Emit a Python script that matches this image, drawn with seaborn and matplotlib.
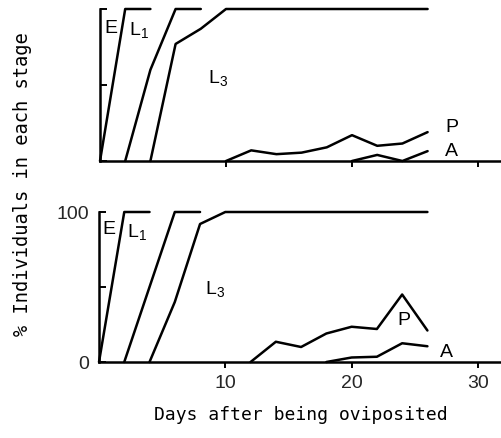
import matplotlib
matplotlib.use("Agg")
import matplotlib.pyplot as plt
import seaborn as sns

# --- data (days after oviposition, cumulative %) ---
top_e_days = [0, 2, 4]
top_e_vals = [0, 100, 100]
top_l1_days = [2, 4, 6, 8]
top_l1_vals = [0, 60, 100, 100]
top_l3_days = [4, 6, 8, 10, 26]
top_l3_vals = [0, 77, 87, 100, 100]
top_p_days = [10, 12, 14, 16, 18, 20, 22, 24, 26]
top_p_vals = [0, 7, 4.5, 5.5, 9, 17, 10, 11.5, 19]
top_a_days = [20, 22, 24, 26]
top_a_vals = [0, 4, 0, 6.5]

bot_e_days = [0, 2, 4]
bot_e_vals = [0, 100, 100]
bot_l1_days = [2, 4, 6, 8]
bot_l1_vals = [0, 50, 100, 100]
bot_l3_days = [4, 6, 8, 10, 26]
bot_l3_vals = [0, 40, 92, 100, 100]
bot_p_days = [12, 14, 16, 18, 20, 22, 24, 26]
bot_p_vals = [0, 13.5, 10, 19, 23.5, 22, 45, 21]
bot_a_days = [18, 20, 22, 24, 26]
bot_a_vals = [0, 3, 3.5, 12.5, 10.5]

x_ticks = [10, 20, 30]
y_ticks = [0, 50, 100]
y_ticklabels = ["0", "", "100"]

sns.set_theme(style="white")
plt.rcParams["font.family"] = ["Liberation Sans", "DejaVu Sans"]
plt.rcParams["mathtext.default"] = "regular"

fig = plt.figure(figsize=(5.01, 4.39), dpi=100)
ax_top = fig.add_axes([100 / 501, 1 - 162 / 439, 401 / 501, 152 / 439])
ax_bot = fig.add_axes([99 / 501, 1 - 363 / 439, 402 / 501, 150 / 439])

lw = 1.8
series_top = [(top_e_days, top_e_vals), (top_l1_days, top_l1_vals),
              (top_l3_days, top_l3_vals), (top_p_days, top_p_vals),
              (top_a_days, top_a_vals)]
series_bot = [(bot_e_days, bot_e_vals), (bot_l1_days, bot_l1_vals),
              (bot_l3_days, bot_l3_vals), (bot_p_days, bot_p_vals),
              (bot_a_days, bot_a_vals)]

for ax, series in [(ax_top, series_top), (ax_bot, series_bot)]:
    for d, v in series:
        sns.lineplot(x=d, y=v, ax=ax, color="black", lw=lw, estimator=None,
                     clip_on=False)
    ax.set_xlim(0, 401 / 12.6)
    ax.set_ylim(0, 100)
    ax.set_facecolor("white")
    for s in ["top", "right"]:
        ax.spines[s].set_visible(False)
    for s in ["left", "bottom"]:
        ax.spines[s].set_color("black")
        ax.spines[s].set_linewidth(lw)
    ax.set_xticks(x_ticks)
    ax.set_yticks(y_ticks)
    ax.tick_params(axis="x", bottom=True, direction="out", length=4, width=1.4,
                   color="black", labelsize=14, pad=5)
    ax.tick_params(axis="y", left=True, direction="in", length=5, width=1.4,
                   color="black", labelsize=14, pad=7)
    ax.set_xlabel("")
    ax.set_ylabel("")

ax_top.set_xticklabels([])
ax_top.set_yticklabels([])
ax_bot.set_yticklabels(y_ticklabels)

lab = dict(fontsize=14, ha="center", va="center", color="black")
ax_top.text(0.87, 88, "E", **lab)
ax_top.text(3.1, 87, "L$_1$", **lab)
ax_top.text(9.4, 55, "L$_3$", **lab)
ax_top.text(27.9, 22.5, "P", **lab)
ax_top.text(27.9, 6.6, "A", **lab)

ax_bot.text(0.75, 89, "E", **lab)
ax_bot.text(3.0, 87, "L$_1$", **lab)
ax_bot.text(9.2, 49, "L$_3$", **lab)
ax_bot.text(24.1, 28, "P", **lab)
ax_bot.text(27.5, 7.3, "A", **lab)

mono = dict(family="DejaVu Sans Mono", fontsize=13, color="black")
fig.text(301 / 501, 1 - 415 / 439, "Days after being oviposited",
         ha="center", va="center", **mono)
fig.text(23 / 501, 1 - 184 / 439, "% Individuals in each stage",
         ha="center", va="center", rotation=90, size=13.5,
         family="DejaVu Sans Mono", color="black")

fig.savefig("out.png", dpi=100, facecolor="white")
